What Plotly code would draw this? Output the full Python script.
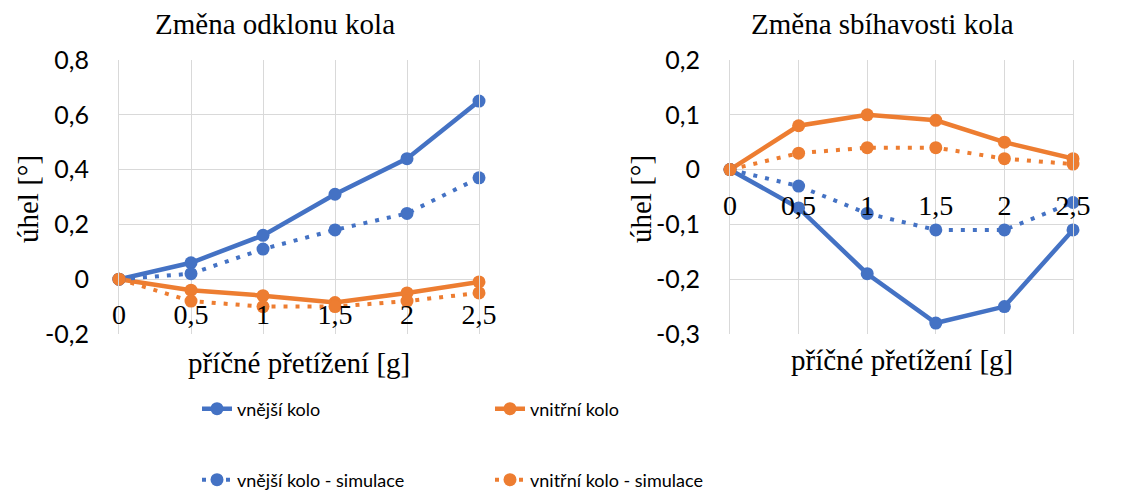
import plotly.graph_objects as go

# ---- data ----
x_vals = [0, 0.5, 1, 1.5, 2, 2.5]
x_labels = ["0", "0,5", "1", "1,5", "2", "2,5"]

camber_outer = [0, 0.06, 0.16, 0.31, 0.44, 0.65]
camber_outer_sim = [0, 0.02, 0.11, 0.18, 0.24, 0.37]
camber_inner = [0, -0.04, -0.06, -0.085, -0.05, -0.01]
camber_inner_sim = [0, -0.08, -0.10, -0.10, -0.08, -0.05]

toe_outer = [0, -0.07, -0.19, -0.28, -0.25, -0.11]
toe_outer_sim = [0, -0.03, -0.08, -0.11, -0.11, -0.06]
toe_inner = [0, 0.08, 0.10, 0.09, 0.05, 0.02]
toe_inner_sim = [0, 0.03, 0.04, 0.04, 0.02, 0.01]

camber_ticks = [-0.2, 0, 0.2, 0.4, 0.6, 0.8]
camber_labels = ["-0,2", "0", "0,2", "0,4", "0,6", "0,8"]
toe_ticks = [-0.3, -0.2, -0.1, 0, 0.1, 0.2]
toe_labels = ["-0,3", "-0,2", "-0,1", "0", "0,1", "0,2"]

series_names = ["vnější kolo", "vnitřní kolo", "vnější kolo - simulace", "vnitřní kolo - simulace"]
titles = ["Změna odklonu kola", "Změna sbíhavosti kola"]
x_title = "příčné přetížení [g]"
y_title = "úhel [°]"

BLUE = "#4472C4"
ORANGE = "#ED7D31"
GRID = "#D9D9D9"
SERIF = "Liberation Serif"
SANS = "Lato"

W, H = 1147, 496
OFF = 8  # page body margin offset


def px(v):
    return (v - OFF) / W


def py(v):
    return 1 - (v - OFF) / H


ydom = [py(334), py(60)]
xdom1 = [px(119), px(479)]
xdom2 = [px(730), px(1073)]
yr1 = [camber_ticks[0], camber_ticks[-1]]
yr2 = [toe_ticks[0], toe_ticks[-1]]


def zero_pos(yr):
    return ydom[0] + (0 - yr[0]) / (yr[1] - yr[0]) * (ydom[1] - ydom[0])


fig = go.Figure()

panels = [
    ("x", "y", [camber_outer, camber_inner, camber_outer_sim, camber_inner_sim], True),
    ("x2", "y2", [toe_outer, toe_inner, toe_outer_sim, toe_inner_sim], False),
]
styles = [
    (BLUE, "solid", 4.5, "legend"),
    (ORANGE, "solid", 4.5, "legend"),
    (BLUE, "4px,8px", 4, "legend2"),
    (ORANGE, "4px,8px", 4, "legend2"),
]
for xa, ya, data, show in panels:
    for name, vals, (col, dash, lw, lg) in zip(series_names, data, styles):
        fig.add_trace(go.Scatter(
            x=x_vals, y=vals, xaxis=xa, yaxis=ya, name=name,
            mode="lines+markers",
            line=dict(color=col, width=lw, dash=dash),
            marker=dict(color=col, size=13),
            cliponaxis=False, showlegend=show, legend=lg,
        ))

common_x = dict(range=[0, 2.5], tickvals=x_vals, ticktext=x_labels, showgrid=True,
                gridcolor=GRID, gridwidth=1, zeroline=False, showline=False, ticks="",
                tickfont=dict(family=SERIF, size=28, color="black"),
                ticklabelstandoff=16, anchor="free", automargin=False)
common_y = dict(showgrid=True, gridcolor=GRID, gridwidth=1, zeroline=False,
                showline=True, mirror=True, linecolor=GRID, linewidth=1, ticks="",
                tickfont=dict(family=SANS, size=25, color="black"),
                ticklabelstandoff=24, domain=ydom, automargin=False)

leg_font = dict(family=SANS, size=18, color="black")
fig.update_layout(
    width=W, height=H,
    margin=dict(l=0, r=0, t=0, b=0, pad=0, autoexpand=False),
    paper_bgcolor="white", plot_bgcolor="white",
    xaxis=dict(common_x, domain=xdom1, position=zero_pos(yr1)),
    yaxis=dict(common_y, range=yr1, tickvals=camber_ticks, ticktext=camber_labels, anchor="x"),
    xaxis2=dict(common_x, domain=xdom2, position=zero_pos(yr2)),
    yaxis2=dict(common_y, range=yr2, tickvals=toe_ticks, ticktext=toe_labels, anchor="x2"),
    legend=dict(orientation="h", x=px(197), y=py(409), yanchor="middle", xanchor="left",
                font=leg_font, entrywidth=248, bgcolor="rgba(0,0,0,0)"),
    legend2=dict(orientation="h", x=px(197), y=py(480), yanchor="middle", xanchor="left",
                 font=leg_font, entrywidth=248, bgcolor="rgba(0,0,0,0)"),
    showlegend=True,
)

ann = []
for t, cx in zip(titles, [275, 882]):
    ann.append(dict(text=t, x=px(cx), y=py(24), xref="paper", yref="paper",
                    xanchor="center", yanchor="middle", showarrow=False,
                    font=dict(family=SERIF, size=29, color="black")))
for xr, cy in [("x domain", 363), ("x2 domain", 360)]:
    ann.append(dict(text=x_title, x=0.5, y=py(cy), xref=xr, yref="paper",
                    xanchor="center", yanchor="middle", showarrow=False,
                    font=dict(family=SERIF, size=29, color="black")))
for cx in [28, 641]:
    ann.append(dict(text=y_title, x=px(cx), y=py(199), xref="paper", yref="paper",
                    xanchor="center", yanchor="middle", showarrow=False, textangle=-90,
                    font=dict(family=SERIF, size=29, color="black")))
fig.update_layout(annotations=ann)

fig.write_html("out.html")
